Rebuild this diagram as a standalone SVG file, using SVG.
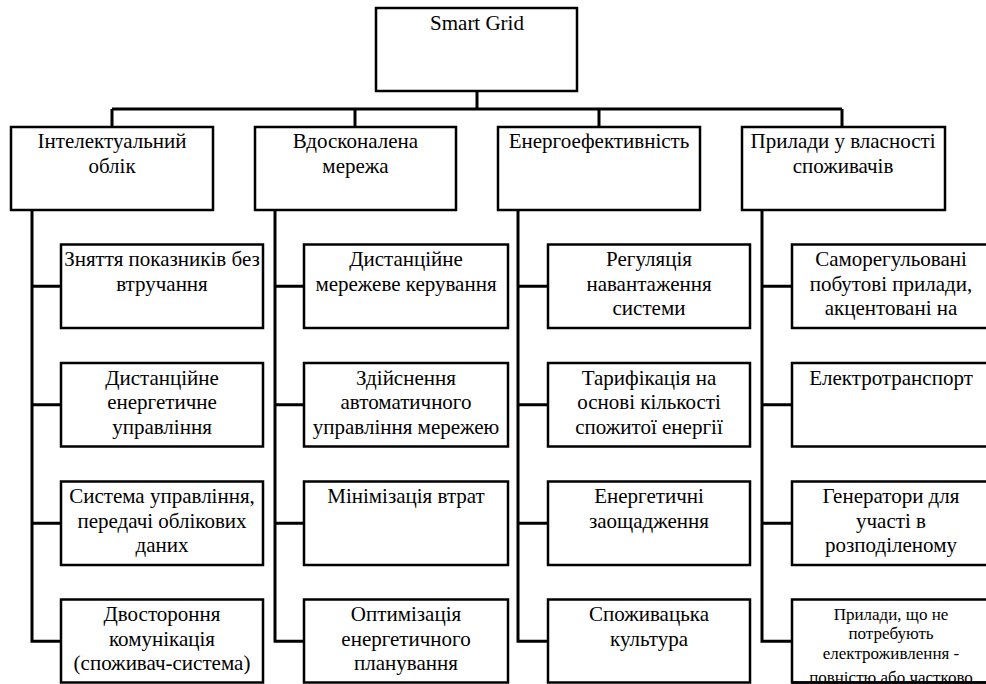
<svg xmlns="http://www.w3.org/2000/svg" width="986" height="684" viewBox="0 0 986 684">
<style>
.box{fill:#fff;stroke:#000;stroke-width:2.5}
text{font-family:'Liberation Serif','Times New Roman',serif;font-size:21px;fill:#000;text-anchor:middle}
.s{font-size:17px}
.c{fill:none;stroke:#000;stroke-width:3;stroke-linejoin:miter}
</style>
<defs>
<clipPath id="clipLast"><rect x="792" y="599.5" width="200" height="81.5"/></clipPath>
</defs>
<rect width="986" height="684" fill="#fff"/>
<g id="connectors" class="c">
<path d="M477 91V109M112 109H842M112 109V127M355 109V127M599 109V127M842 109V127"/>
<path d="M32 210V641.25H61M32 286.25H61M32 404.75H61M32 523.25H61"/>
<path d="M275 210V641.25H304M275 286.25H304M275 404.75H304M275 523.25H304"/>
<path d="M518 210V641.25H548M518 286.25H548M518 404.75H548M518 523.25H548"/>
<path d="M762 210V641.25H792M762 286.25H792M762 404.75H792M762 523.25H792"/>
</g>
<g id="root"><rect class="box" x="376" y="8" width="201" height="83"/><text x="477" y="29.5">Smart Grid</text></g>
<g id="cat1"><rect class="box" x="11" y="127" width="202" height="83"/><text x="112" y="148">Інтелектуальний</text><text x="112" y="172.5">облік</text></g>
<g id="cat2"><rect class="box" x="255" y="127" width="201" height="83"/><text x="355.5" y="148">Вдосконалена</text><text x="355.5" y="172.5">мережа</text></g>
<g id="cat3"><rect class="box" x="498" y="127" width="202" height="83"/><text x="599" y="148">Енергоефективність</text></g>
<g id="cat4"><rect class="box" x="742" y="127" width="203" height="83"/><text x="843" y="148">Прилади у власності</text><text x="843" y="172.5">споживачів</text></g>

<g id="c1n1"><rect class="box" x="61" y="244.5" width="202" height="83.5"/><text x="162" y="266">Зняття показників без</text><text x="162" y="290.5">втручання</text></g>
<g id="c1n2"><rect class="box" x="61" y="363" width="202" height="83.5"/><text x="162" y="384.5">Дистанційне</text><text x="162" y="409">енергетичне</text><text x="162" y="433.5">управління</text></g>
<g id="c1n3"><rect class="box" x="61" y="481.5" width="202" height="83.5"/><text x="162" y="503">Система управління,</text><text x="162" y="527.5">передачі облікових</text><text x="162" y="552">даних</text></g>
<g id="c1n4"><rect class="box" x="61" y="599.5" width="202" height="83"/><text x="162" y="621">Двостороння</text><text x="162" y="645.5">комунікація</text><text x="162" y="670">(споживач-система)</text></g>

<g id="c2n1"><rect class="box" x="304" y="244.5" width="204" height="83.5"/><text x="406" y="266">Дистанційне</text><text x="406" y="290.5">мережеве керування</text></g>
<g id="c2n2"><rect class="box" x="304" y="363" width="204" height="83.5"/><text x="406" y="384.5">Здійснення</text><text x="406" y="409">автоматичного</text><text x="406" y="433.5">управління мережею</text></g>
<g id="c2n3"><rect class="box" x="304" y="481.5" width="204" height="83.5"/><text x="406" y="503">Мінімізація втрат</text></g>
<g id="c2n4"><rect class="box" x="304" y="599.5" width="204" height="83"/><text x="406" y="621">Оптимізація</text><text x="406" y="645.5">енергетичного</text><text x="406" y="670">планування</text></g>

<g id="c3n1"><rect class="box" x="548" y="244.5" width="202" height="83.5"/><text x="649" y="266">Регуляція</text><text x="649" y="290.5">навантаження</text><text x="649" y="315">системи</text></g>
<g id="c3n2"><rect class="box" x="548" y="363" width="202" height="83.5"/><text x="649" y="384.5">Тарифікація на</text><text x="649" y="409">основі кількості</text><text x="649" y="433.5">спожитої енергії</text></g>
<g id="c3n3"><rect class="box" x="548" y="481.5" width="202" height="83.5"/><text x="649" y="503">Енергетичні</text><text x="649" y="527.5">заощадження</text></g>
<g id="c3n4"><rect class="box" x="548" y="599.5" width="202" height="83"/><text x="649" y="621">Споживацька</text><text x="649" y="645.5">культура</text></g>

<g id="c4n1"><rect class="box" x="792" y="244.5" width="202" height="83.5"/><text x="891" y="266">Саморегульовані</text><text x="891" y="290.5">побутові прилади,</text><text x="891" y="315">акцентовані на</text></g>
<g id="c4n2"><rect class="box" x="792" y="363" width="202" height="83.5"/><text x="891" y="384.5">Електротранспорт</text></g>
<g id="c4n3"><rect class="box" x="792" y="481.5" width="202" height="83.5"/><text x="891" y="503">Генератори для</text><text x="891" y="527.5">участі в</text><text x="891" y="552">розподіленому</text></g>
<g id="c4n4"><rect class="box" x="792" y="599.5" width="202" height="83"/><g clip-path="url(#clipLast)"><text class="s" x="891" y="619.5">Прилади, що не</text><text class="s" x="891" y="639">потребують</text><text class="s" x="891" y="658.5">електроживлення -</text><text class="s" x="891" y="682.5">повністю або частково</text></g><path d="M792 682.5H994" stroke="#000" stroke-width="2.5"/></g>
</svg>
